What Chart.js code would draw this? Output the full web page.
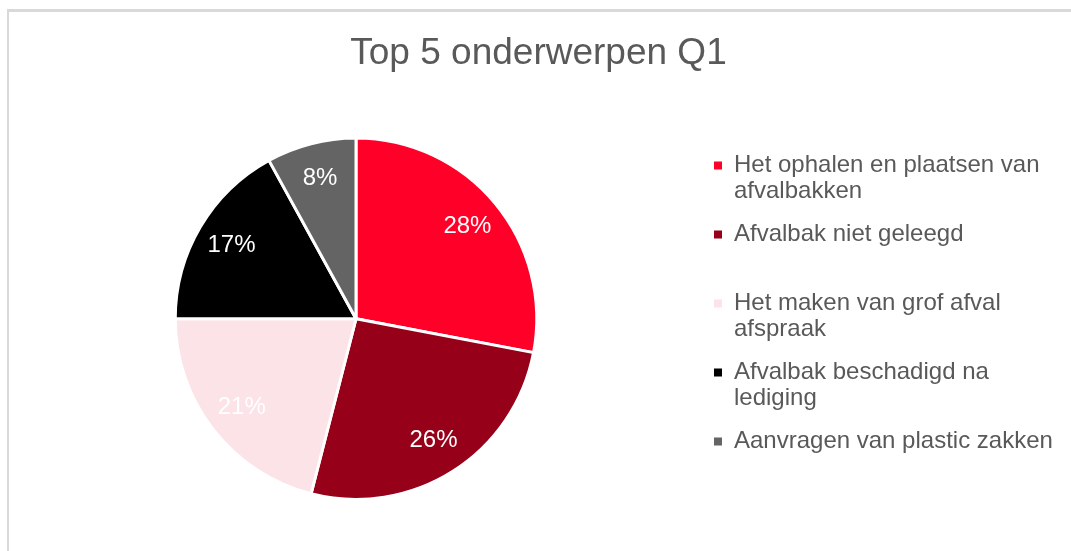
<!DOCTYPE html>
<html>
<head>
<meta charset="utf-8">
<script src="https://cdn.jsdelivr.net/npm/chart.js@4.4.1/dist/chart.umd.min.js"></script>
<style>
html, body { margin: 0; padding: 0; background: #ffffff; overflow: hidden; width: 1071px; height: 551px; }
#frame { position: absolute; left: 7px; top: 9px; width: 2000px; height: 2000px;
         border-left: 2px solid #d9d9d9; border-top: 3px solid #d9d9d9; }
#c { position: absolute; left: 0; top: 0; }
</style>
</head>
<body>
<div id="frame"></div>
<canvas id="c" width="1071" height="551"></canvas>
<script>
const chartTitle = 'Top 5 onderwerpen Q1';
const categories = [
  'Het ophalen en plaatsen van afvalbakken',
  'Afvalbak niet geleegd',
  'Het maken van grof afval afspraak',
  'Afvalbak beschadigd na lediging',
  'Aanvragen van plastic zakken'
];
const shares = [28, 26, 21, 17, 8];
const sliceColors = ['#FF0029', '#960018', '#FBE3E7', '#000000', '#646464'];

const FONT = "'Liberation Sans', Arial, sans-serif";
const TEXT_COLOR = '#595959';

function wrapText(ctx, text, maxW) {
  const words = text.split(' ');
  const lines = [];
  let cur = '';
  for (const w of words) {
    const t = cur ? cur + ' ' + w : w;
    if (cur && ctx.measureText(t).width > maxW) { lines.push(cur); cur = w; }
    else cur = t;
  }
  if (cur) lines.push(cur);
  return lines;
}

const sliceLabels = {
  id: 'sliceLabels',
  afterDatasetsDraw(chart) {
    const ctx = chart.ctx;
    const meta = chart.getDatasetMeta(0);
    const values = chart.data.datasets[0].data;
    ctx.save();
    ctx.font = '24px ' + FONT;
    ctx.fillStyle = '#ffffff';
    ctx.textAlign = 'center';
    ctx.textBaseline = 'middle';
    meta.data.forEach((arc, i) => {
      const p = arc.getProps(['x', 'y', 'startAngle', 'endAngle', 'outerRadius'], true);
      const mid = (p.startAngle + p.endAngle) / 2;
      const r = p.outerRadius * 0.8;
      ctx.fillText(values[i] + '%', p.x + Math.cos(mid) * r, p.y + Math.sin(mid) * r);
    });
    ctx.restore();
  }
};

Chart.defaults.font.family = FONT;

new Chart(document.getElementById('c'), {
  type: 'pie',
  data: {
    labels: categories,
    datasets: [{
      data: shares,
      backgroundColor: sliceColors,
      borderColor: '#ffffff',
      borderWidth: 3,
      hoverBorderWidth: 3,
      hoverOffset: 0,
      offset: 0
    }]
  },
  options: {
    responsive: false,
    animation: false,
    events: [],
    layout: { padding: { left: 15, right: 9, top: 0, bottom: 50 } },
    plugins: {
      tooltip: { enabled: false },
      title: {
        display: true,
        text: chartTitle,
        color: TEXT_COLOR,
        font: { size: 37, weight: 'normal', lineHeight: 1.2 },
        padding: { top: 32, bottom: 60.1 }
      },
      legend: {
        position: 'right',
        align: 'start',
        fullSize: false,
        maxWidth: 365,
        labels: {
          boxWidth: 8,
          boxHeight: 8,
          padding: 17,
          color: TEXT_COLOR,
          font: { size: 24, lineHeight: 26 / 24 },
          generateLabels(chart) {
            const ctx = chart.ctx;
            ctx.save();
            ctx.font = '24px ' + FONT;
            const items = chart.data.labels.map((label, i) => {
              const lines = wrapText(ctx, label, 325);
              if (i === 1) lines.push('');
              return {
                text: lines,
                fillStyle: sliceColors[i],
                strokeStyle: sliceColors[i],
                lineWidth: 0,
                fontColor: TEXT_COLOR,
                textAlign: 'left',
                hidden: false,
                index: i
              };
            });
            ctx.restore();
            return items;
          }
        }
      }
    }
  },
  plugins: [sliceLabels]
});
</script>
</body>
</html>
